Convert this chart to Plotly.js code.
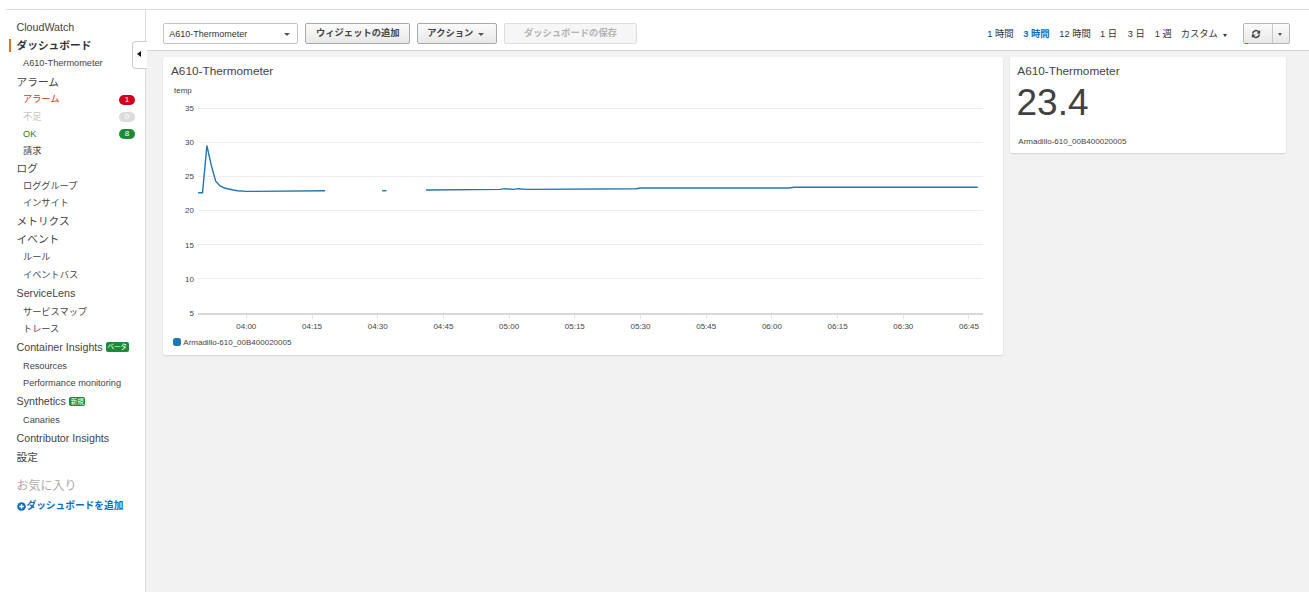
<!DOCTYPE html>
<html><head><meta charset="utf-8">
<script src="https://cdn.plot.ly/plotly-3.0.1.min.js"></script>
<style>
*{box-sizing:border-box}
body{margin:0;width:1309px;height:592px;overflow:hidden;background:#fff;font-family:"Liberation Sans",Arial,"Noto Sans CJK JP",sans-serif;color:#444;position:relative}
.a{position:absolute;white-space:nowrap}
.t{font-size:10.7px;line-height:14px;height:14px;left:16.5px}
.s{font-size:9.2px;line-height:12px;height:12px;left:23px}
.bd{position:absolute;border-radius:5px;color:#fff;font-size:8px;line-height:10px;height:10px;width:16px;text-align:center;left:119px}
.gb{position:absolute;background:#1d8a35;color:#fff;border-radius:2px;text-align:center}
.btn{position:absolute;top:23.3px;height:20.5px;border:1px solid #a9a9a9;border-radius:2px;background:linear-gradient(#fbfbfb,#e8e8e8);font-weight:bold;font-size:9.3px;line-height:18.5px;text-align:center;color:#444}
.tri{position:absolute;width:0;height:0;border-left:3px solid transparent;border-right:3px solid transparent;border-top:3.5px solid #555}
.tl{position:absolute;top:28.3px;font-size:9.3px;line-height:12px;color:#333}
.card{position:absolute;background:#fff;border-radius:2px;box-shadow:0 1px 2px rgba(0,0,0,0.13)}
</style></head>
<body>
<!-- frame -->
<div class="a" style="left:6px;top:9px;width:1303px;height:1px;background:#ddd"></div>
<div class="a" style="left:146px;top:10px;width:1163px;height:582px;background:#f2f2f2"></div>
<div class="a" style="left:146px;top:10px;width:1163px;height:40px;background:#fff"></div>
<div class="a" style="left:146px;top:50px;width:1163px;height:1px;background:#d3d3d3"></div>
<div class="a" style="left:145px;top:9px;width:1px;height:583px;background:#ddd"></div>
<div class="a" style="left:131.5px;top:40.5px;width:15px;height:28px;background:#fff;border:1px solid #ccc;border-right:none;border-radius:4px 0 0 4px"></div>
<div class="a" style="left:136.5px;top:50.5px;width:0;height:0;border-top:3.5px solid transparent;border-bottom:3.5px solid transparent;border-right:4px solid #111"></div>

<!-- sidebar -->
<div class="a t" style="top:19.7px">CloudWatch</div>
<div class="a" style="left:9px;top:39px;width:2px;height:13px;background:#ec7211"></div>
<div class="a t" style="top:38px;font-weight:bold;color:#333">ダッシュボード</div>
<div class="a s" style="top:57.3px">A610-Thermometer</div>
<div class="a t" style="top:74.7px">アラーム</div>
<div class="a s" style="top:93.3px;color:#d13212">アラーム</div>
<div class="bd" style="top:94.5px;background:#d0021b">1</div>
<div class="a s" style="top:110.7px;color:#c4c4c4">不足</div>
<div class="bd" style="top:112px;background:#dcdcdc">0</div>
<div class="a s" style="top:128px;color:#1d8102">OK</div>
<div class="bd" style="top:129.3px;background:#1d8a35">8</div>
<div class="a s" style="top:144.7px">請求</div>
<div class="a t" style="top:161.3px">ログ</div>
<div class="a s" style="top:179.7px">ロググループ</div>
<div class="a s" style="top:197.3px">インサイト</div>
<div class="a t" style="top:214px">メトリクス</div>
<div class="a t" style="top:232.3px">イベント</div>
<div class="a s" style="top:250.7px">ルール</div>
<div class="a s" style="top:269.2px">イベントバス</div>
<div class="a t" style="top:286.3px">ServiceLens</div>
<div class="a s" style="top:305.5px">サービスマップ</div>
<div class="a s" style="top:323px">トレース</div>
<div class="a t" style="top:339.7px">Container Insights</div>
<div class="gb" style="left:106px;top:341.7px;width:22.7px;height:10.6px;font-size:6.5px;line-height:10.6px">ベータ</div>
<div class="a s" style="top:360px">Resources</div>
<div class="a s" style="top:377px">Performance monitoring</div>
<div class="a t" style="top:394px">Synthetics</div>
<div class="gb" style="left:69px;top:396.5px;width:16.3px;height:9.8px;font-size:6.5px;line-height:9.8px">新規</div>
<div class="a s" style="top:414px">Canaries</div>
<div class="a t" style="top:431.3px">Contributor Insights</div>
<div class="a t" style="top:449.7px">設定</div>
<div class="a" style="left:16.5px;top:479px;font-size:12px;line-height:15px;color:#aaa">お気に入り</div>
<svg class="a" style="left:16.8px;top:501.6px" width="9" height="9" viewBox="0 0 9 9">
<circle cx="4.5" cy="4.5" r="4.3" fill="#0a6ebd"/>
<path d="M2.2,4.5 H6.8 M4.5,2.2 V6.8" stroke="#fff" stroke-width="1.4"/>
</svg>
<div class="a" style="left:26.5px;top:500px;font-size:9.7px;line-height:12px;font-weight:bold;color:#0a6ebd">ダッシュボードを追加</div>

<!-- header -->
<div class="a" style="left:162.7px;top:23.3px;width:135px;height:20.7px;border:1px solid #c3c3c3;border-radius:2px;background:#fff"></div>
<div class="a" style="left:169.3px;top:28.3px;font-size:9px;line-height:12px;color:#333">A610-Thermometer</div>
<div class="tri" style="left:284px;top:33px"></div>
<div class="btn" style="left:305.3px;width:105px">ウィジェットの追加</div>
<div class="btn" style="left:417.3px;width:80px;text-align:left;padding-left:9px">アクション</div>
<div class="tri" style="left:478px;top:32.5px"></div>
<div class="btn" style="left:504.3px;width:132.4px;background:#f6f6f6;border-color:#dedede;color:#b3b3b3">ダッシュボードの保存</div>

<div class="tl" style="left:987.3px">1 時間</div>
<div class="tl" style="left:1023.3px;color:#0a6ebd;font-weight:bold">3 時間</div>
<div class="tl" style="left:1059.3px">12 時間</div>
<div class="tl" style="left:1100px">1 日</div>
<div class="tl" style="left:1127.7px">3 日</div>
<div class="tl" style="left:1154.7px">1 週</div>
<div class="tl" style="left:1180.7px">カスタム</div>
<div class="tri" style="left:1222.5px;top:33.5px;border-left-width:2.5px;border-right-width:2.5px;border-top-width:3px;border-top-color:#333"></div>

<div class="a" style="left:1242.7px;top:23.3px;width:47.3px;height:20.7px;border:1px solid #b5b5b5;border-radius:2px;background:linear-gradient(#fbfbfb,#e8e8e8)"></div>
<div class="a" style="left:1271.5px;top:24.3px;width:1px;height:18.7px;background:#c8c8c8"></div>
<svg class="a" style="left:1251px;top:28.5px" width="10" height="10" viewBox="0 0 16 16">
<path d="M2.6,7.2 A5.6,5.6 0 0 1 12.4,4.6" fill="none" stroke="#444" stroke-width="2.4"/>
<path d="M14.6,1.6 L14.6,7.6 L8.8,7 Z" fill="#444"/>
<path d="M13.4,8.8 A5.6,5.6 0 0 1 3.6,11.4" fill="none" stroke="#444" stroke-width="2.4"/>
<path d="M1.4,14.4 L1.4,8.4 L7.2,9 Z" fill="#444"/>
</svg>
<div class="tri" style="left:1278.2px;top:32.5px;border-left-width:2.5px;border-right-width:2.5px;border-top-width:3px"></div>
<div class="a" style="left:1245px;top:42.5px;width:2.5px;height:1.8px;background:#2a7fd0"></div>

<!-- widgets -->
<div class="card" style="left:163px;top:57px;width:840px;height:298px"></div>
<div class="a" id="t1" style="left:171px;top:63.5px;font-size:11.8px;line-height:15px"></div>
<div class="a" id="chart" style="left:163px;top:80px;width:840px;height:275px"></div>
<div class="a" id="lgsw" style="left:172.7px;top:337.7px;width:8px;height:8px;border-radius:2.5px"></div>
<div class="a" id="lgtx" style="left:183.3px;top:336.5px;font-size:8px;line-height:11px"></div>

<div class="card" style="left:1010px;top:57px;width:276px;height:96px"></div>
<div class="a" id="t2" style="left:1017.3px;top:63.5px;font-size:11.8px;line-height:15px"></div>
<div class="a" id="big" style="left:1016.5px;top:82px;font-size:37px;line-height:42.5px;color:#414141"></div>
<div class="a" id="lg2" style="left:1018.3px;top:136.2px;font-size:8px;line-height:11px"></div>

<script>
const FONT = '"Liberation Sans", Arial, "Noto Sans CJK JP", sans-serif';
const widgetTitle = 'A610-Thermometer';
const seriesName = 'Armadillo-610_00B400020005';
const yAxisLabel = 'temp';
const seriesColor = '#1f77b4';
const day = '2020-06-01';
const firstMinute = 3 * 60 + 49;   // 03:49, one point per minute
const yTicks = [5, 10, 15, 20, 25, 30, 35];
const temp = [
  22.6, 22.6, 29.5, 26.6, 24.3, 23.6, 23.3, 23.1, 23.0, 22.9,
  22.8, 22.8, 22.8, 22.8, 22.8, 22.8, 22.8, 22.8, 22.8, 22.8, 22.8,
  22.9, 22.9, 22.9, 22.9, 22.9, 22.9, 22.9, 22.9, 22.9,
  null, null, null, null, null, null, null, null, null, null, null, null,
  22.9, 22.9,
  null, null, null, null, null, null, null, null,
  23.0, 23.0, 23.0, 23.0,
  23.1, 23.1, 23.1, 23.1, 23.1, 23.1, 23.1, 23.1, 23.1, 23.1, 23.1, 23.1, 23.1, 23.1,
  23.2, 23.1, 23.1, 23.2,
  23.1, 23.1, 23.1, 23.1, 23.1, 23.1, 23.1, 23.1, 23.1, 23.1,
  23.2, 23.1, 23.1, 23.1, 23.2, 23.1, 23.1, 23.2, 23.1,
  23.2, 23.2, 23.2, 23.2, 23.2, 23.2, 23.2, 23.2,
  23.3, 23.3, 23.3, 23.3, 23.3, 23.3, 23.3, 23.3, 23.3,
  23.2, 23.2, 23.2, 23.2,
  23.3, 23.3, 23.3, 23.3, 23.3, 23.3, 23.3, 23.3,
  23.2,
  23.3, 23.3, 23.3, 23.3, 23.3, 23.3, 23.3, 23.3, 23.3, 23.3, 23.3, 23.3, 23.3,
  23.4, 23.4, 23.4, 23.3, 23.3, 23.3, 23.4, 23.3, 23.4, 23.4, 23.4,
  23.3, 23.3, 23.3, 23.3, 23.3, 23.3, 23.3, 23.3, 23.3, 23.3, 23.3, 23.3,
  23.4, 23.4, 23.3,
  23.4, 23.4, 23.4, 23.4, 23.4, 23.4, 23.4, 23.4,
  23.3, 23.3, 23.3, 23.4, 23.4, 23.3, 23.4, 23.4, 23.4
];
const pad = n => String(n).padStart(2, '0');
const times = temp.map((v, i) => {
  const m = firstMinute + i;
  return day + ' ' + pad(Math.floor(m / 60)) + ':' + pad(m % 60);
});
const latest = temp.filter(v => v !== null).slice(-1)[0];

document.getElementById('t1').textContent = widgetTitle;
document.getElementById('t2').textContent = widgetTitle;
document.getElementById('lgtx').textContent = seriesName;
document.getElementById('lg2').textContent = seriesName;
document.getElementById('lgsw').style.background = seriesColor;
document.getElementById('big').textContent = latest.toFixed(1);

Plotly.newPlot('chart', [{
  type: 'scatter', mode: 'lines', name: seriesName,
  x: times, y: temp, connectgaps: false,
  line: {color: seriesColor, width: 1.4}
}], {
  width: 840, height: 275,
  margin: {l: 35, r: 20, t: 25, b: 42, pad: 0},
  paper_bgcolor: 'rgba(0,0,0,0)', plot_bgcolor: 'rgba(0,0,0,0)',
  font: {family: FONT, size: 8, color: '#444'},
  showlegend: false,
  xaxis: {
    type: 'date', range: [day + ' 03:48:58', day + ' 06:48:12'],
    tickformat: '%H:%M', dtick: 900000, tick0: day + ' 04:00',
    showgrid: false, zeroline: false, showline: true, linecolor: '#d9d9d9', linewidth: 2,
    ticks: 'outside', ticklen: 4, tickcolor: '#e3e3e3', tickwidth: 1,
    tickfont: {family: FONT, size: 8, color: '#444'}, fixedrange: true
  },
  yaxis: {
    range: [5, 35.45], tickmode: 'array', tickvals: yTicks, ticktext: yTicks.map(String),
    showgrid: true, gridcolor: '#ededed', gridwidth: 1, zeroline: false, showline: false,
    ticks: '', ticklabelstandoff: 3,
    tickfont: {family: FONT, size: 8, color: '#444'}, fixedrange: true
  },
  annotations: [{
    text: yAxisLabel, xref: 'paper', yref: 'paper', x: 0, y: 1,
    xanchor: 'left', yanchor: 'bottom', xshift: -26, yshift: 8,
    showarrow: false, font: {family: FONT, size: 8, color: '#444'}
  }]
}, {displayModeBar: false, staticPlot: true});
</script>
</body></html>
